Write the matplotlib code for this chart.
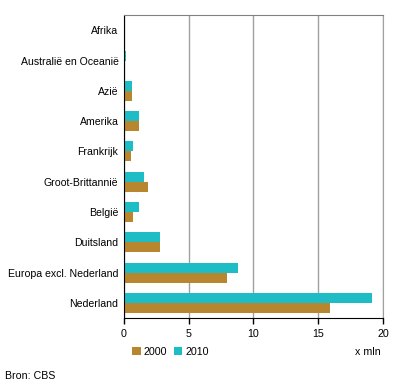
import matplotlib.pyplot as plt
import numpy as np

plt.rcParams['font.family'] = ['Liberation Sans', 'DejaVu Sans']

# herkomst van toeristen, x mln
categories = ['Afrika', 'Australië en Oceanië', 'Azië', 'Amerika', 'Frankrijk',
              'Groot-Brittannië', 'België', 'Duitsland', 'Europa excl. Nederland', 'Nederland']
v2000 = [0.0, 0.1, 0.6, 1.2, 0.52, 1.85, 0.68, 2.8, 7.95, 15.9]
v2010 = [0.0, 0.13, 0.6, 1.2, 0.68, 1.55, 1.2, 2.8, 8.8, 19.15]

c2000 = '#B8862F'
c2010 = '#1EBDC6'

fig = plt.figure(figsize=(3.96, 3.88), dpi=100)
ax = fig.add_axes([0.313, 0.180, 0.654, 0.781])

y = np.arange(len(categories))
h = 0.33
ax.barh(y + h / 2, v2000, height=h, color=c2000, label='2000')
ax.barh(y - h / 2, v2010, height=h, color=c2010, label='2010')

ax.set_ylim(len(categories) - 0.5, -0.5)
ax.set_yticks(y)
ax.set_yticklabels(categories, fontsize=7.6)
ax.tick_params(axis='y', length=0, pad=4)

ax.set_xlim(0, 20)
ax.set_xticks([0, 5, 10, 15, 20])
ax.tick_params(axis='x', labelsize=7.7, length=4, direction='out', width=1)
ax.xaxis.grid(True, color='#A0A0A0', linewidth=1)
ax.set_axisbelow(True)

ax.spines['top'].set_color('#808080')
ax.spines['right'].set_color('#A0A0A0')
ax.spines['left'].set_color('black')
ax.spines['bottom'].set_color('black')

ax.legend(loc='center left', bbox_to_anchor=(0.015, -0.112), ncol=2, frameon=False,
          fontsize=7.7, handlelength=0.8, handleheight=0.8, handletextpad=0.3,
          columnspacing=0.6, borderaxespad=0)

fig.text(0.897, 0.093, 'x mln', fontsize=7.7, ha='left', va='center')
fig.text(0.013, 0.03, 'Bron: CBS', fontsize=7.7, ha='left', va='center')

fig.savefig('out.png', dpi=100)
